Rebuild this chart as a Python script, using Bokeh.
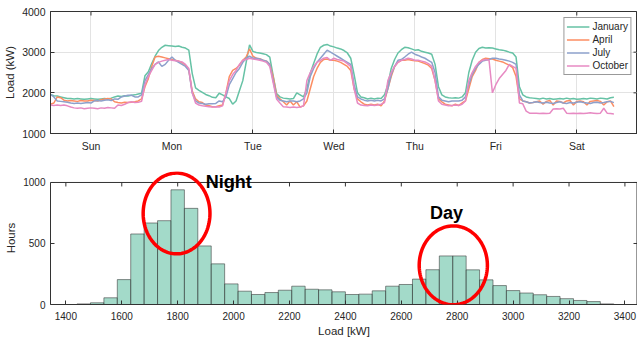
import numpy as np
from bokeh.plotting import figure
from bokeh.layouts import column
from bokeh.models import (FixedTicker, Label, PolyAnnotation, Range1d)
from bokeh.embed import file_html
from bokeh.resources import INLINE

# ---------------- data: weekly load profiles (hourly, Sun 00:00 .. Sat 23:00) ----------------
hours = list(range(168))
day_ticks = [12, 36, 60, 84, 108, 132, 156]
day_labels = ["Sun", "Mon", "Tue", "Wed", "Thu", "Fri", "Sat"]

january = [
    1960, 1930, 1920, 1900, 1880, 1860, 1860, 1850, 1860, 1850, 1840, 1850, 1860, 1850, 1840, 1850, 1860, 1850, 1870, 1900, 1920, 1910, 1930, 1920,
    1940, 1950, 1970, 1990, 2420, 2520, 2720, 2900, 3040, 3120, 3170, 3160, 3150, 3140, 3150, 3120, 3100, 3050, 2480, 2120, 2060, 2010, 1960, 1930,
    1890, 1880, 1990, 1950, 1900, 1860, 1720, 1800, 2050, 2300, 2750, 3180, 3020, 2990, 2980, 2960, 2940, 2880, 2420, 1980, 1900, 1870, 1860, 1850,
    1860, 2000, 1950, 1900, 2100, 2480, 2720, 2950, 3120, 3170, 3190, 3150, 3130, 3100, 3080, 3040, 2980, 2850, 2450, 2000, 1900, 1880, 1850, 1870,
    1850, 1870, 1860, 1950, 2200, 2600, 2820, 2980, 3060, 3120, 3110, 3080, 3050, 3060, 3020, 3000, 2980, 2950, 2700, 2150, 1950, 1900, 1880, 1870,
    1880, 1870, 1900, 2000, 2500, 2800, 3000, 3090, 3120, 3100, 3110, 3100, 3080, 3060, 3050, 3030, 3000, 2980, 2880, 2150, 1950, 1900, 1880, 1870,
    1860, 1850, 1870, 1850, 1860, 1840, 1850, 1860, 1850, 1870, 1850, 1860, 1840, 1850, 1860, 1850, 1870, 1860, 1850, 1870, 1860, 1850, 1880, 1890,
]
april = [
    1720, 1750, 1900, 1880, 1820, 1800, 1810, 1800, 1790, 1810, 1800, 1800, 1820, 1810, 1800, 1830, 1850, 1860, 1850, 1780, 1760, 1750, 1770, 1760,
    1770, 1780, 1800, 1850, 2150, 2350, 2650, 2880, 2900, 2880, 2860, 2840, 2820, 2800, 2780, 2740, 2680, 2560, 2050, 1850, 1780, 1760, 1700, 1680,
    1660, 1660, 1680, 1700, 2000, 2400, 2550, 2600, 2680, 2800, 2880, 3080, 2900, 2850, 2840, 2800, 2780, 2700, 2400, 1950, 1850, 1780, 1700, 1800,
    1700, 1780, 1650, 1680, 1800, 2100, 2400, 2600, 2750, 2820, 2830, 2800, 2800, 2780, 2750, 2700, 2650, 2550, 2100, 1850, 1780, 1720, 1700, 1720,
    1700, 1720, 1680, 1800, 2100, 2400, 2650, 2750, 2800, 2800, 2820, 2800, 2790, 2780, 2750, 2720, 2680, 2600, 2300, 1850, 1780, 1720, 1700, 1680,
    1720, 1690, 1750, 1800, 2100, 2400, 2550, 2750, 2820, 2850, 2840, 2830, 2800, 2780, 2760, 2720, 2680, 2620, 2400, 1850, 1800, 1780, 1750, 1760,
    1780, 1800, 1720, 1790, 1810, 1700, 1800, 1790, 1750, 1800, 1810, 1700, 1790, 1800, 1780, 1700, 1790, 1800, 1810, 1790, 1700, 1780, 1800, 1660,
]
july = [
    1960, 1900, 1800, 1790, 1780, 1770, 1750, 1740, 1750, 1740, 1750, 1760, 1750, 1800, 1810, 1800, 1820, 1830, 1810, 1850, 1840, 1900, 1920, 1940,
    1940, 1900, 1900, 1950, 2300, 2450, 2600, 2700, 2760, 2650, 2700, 2800, 2880, 2800, 2750, 2700, 2650, 2550, 2000, 1800, 1750, 1740, 1720, 1730,
    1730, 1740, 1800, 1780, 1900, 2200, 2350, 2500, 2600, 2750, 2850, 2900, 2850, 2850, 2830, 2800, 2780, 2700, 2300, 1900, 1820, 1800, 1780, 1800,
    1800, 1780, 1800, 1850, 2000, 2400, 2600, 2750, 2850, 2950, 3050, 3000, 2950, 2900, 2850, 2800, 2750, 2700, 2200, 1900, 1850, 1820, 1800, 1820,
    1800, 1820, 1800, 1850, 2100, 2450, 2650, 2800, 2820, 2880, 2950, 3000, 2950, 2920, 2880, 2850, 2800, 2750, 2500, 1900, 1820, 1800, 1780, 1800,
    1800, 1800, 1820, 1900, 2200, 2450, 2600, 2700, 2780, 2800, 2820, 2850, 2850, 2830, 2820, 2800, 2780, 2750, 2700, 1950, 1800, 1780, 1750, 1760,
    1780, 1760, 1750, 1770, 1750, 1740, 1760, 1780, 1750, 1740, 1760, 1750, 1770, 1780, 1760, 1750, 1740, 1760, 1770, 1750, 1760, 1780, 1790, 1760,
]
october = [
    1700, 1690, 1700, 1690, 1700, 1680, 1650, 1630, 1620, 1630, 1610, 1620, 1630, 1620, 1610, 1630, 1620, 1640, 1630, 1620, 1700, 1690, 1720, 1760,
    1780, 1760, 1770, 1790, 2200, 2400, 2550, 2700, 2750, 2780, 2800, 2820, 2800, 2790, 2780, 2760, 2700, 2600, 2000, 1750, 1700, 1680, 1670, 1660,
    1650, 1660, 1650, 1680, 2000, 2300, 2450, 2550, 2700, 2800, 2820, 2850, 2830, 2820, 2800, 2780, 2750, 2650, 2250, 1850, 1750, 1660, 1650, 1640,
    1650, 1640, 1650, 1680, 2300, 2500, 2650, 2750, 2800, 2850, 2870, 2800, 2850, 2820, 2800, 2780, 2720, 2650, 2100, 1750, 1700, 1690, 1680, 1700,
    1690, 1700, 1720, 1760, 2300, 2500, 2650, 2750, 2800, 2820, 2850, 2830, 2800, 2800, 2780, 2760, 2720, 2650, 2300, 1800, 1720, 1700, 1680, 1690,
    1700, 1690, 1720, 1800, 2300, 2500, 2650, 2750, 2800, 2820, 2800, 2000, 2200, 2350, 2450, 2550, 2700, 2650, 2600, 1750, 1730, 1550, 1500, 1500,
    1500, 1490, 1500, 1490, 1500, 1600, 1610, 1600, 1620, 1500, 1490, 1500, 1490, 1500, 1490, 1500, 1510, 1500, 1490, 1500, 1620, 1500, 1490, 1480,
]
series_names = ["January", "April", "July", "October"]
series_colors = ["#66c2a5", "#fc8d62", "#8da0cb", "#e78ac3"]

# ---------------- data: histogram of load (bin edges in kW, counts in hours) ----------------
bin_start = 1440
bin_width = 48
hist_counts = [5, 14, 55, 204, 578, 668, 687, 940, 788, 480,
               333, 169, 109, 82, 98, 117, 150, 125, 120, 104,
               82, 85, 112, 150, 164, 208, 285, 398, 398, 284,
               202, 155, 114, 94, 80, 66, 48, 33, 24, 5]
hist_xticks = [1400, 1600, 1800, 2000, 2200, 2400, 2600, 2800, 3000, 3200, 3400]
hist_yticks = [0, 500, 1000]
load_yticks = [1000, 2000, 3000, 4000]

# annotations: ellipse centre/size in data units, and their labels
night_ellipse = (1796, 746, 239, 662)
day_ellipse = (2786, 321, 244, 646)
night_label = (1900, 1008, "Night")
day_label = (2703, 752, "Day")

FONT = "Liberation Sans"
AX = "#333333"
TXT = "#262626"
FRAME_W = 587
TICK_PX = 4


def style_axis(ax, ticks, label_size="10.5px"):
    ax.ticker = FixedTicker(ticks=ticks)
    ax.major_tick_in = TICK_PX
    ax.major_tick_out = 0
    ax.minor_tick_line_color = None
    ax.major_tick_line_color = AX
    ax.axis_line_color = AX
    ax.major_label_text_font = FONT
    ax.major_label_text_color = TXT
    ax.major_label_text_font_size = label_size
    ax.axis_label_text_font = FONT
    ax.axis_label_text_color = TXT
    ax.axis_label_text_font_style = "normal"
    ax.axis_label_text_font_size = "11.5px"


def inner_ticks(p, xr, yr, xticks, yticks, y_top, fh):
    """tick marks on the top and right frame edges (mirroring the axes)"""
    dy = (yr[1] - yr[0]) / fh * TICK_PX
    dx = (xr[1] - xr[0]) / FRAME_W * TICK_PX
    p.segment(x0=xticks, y0=[y_top] * len(xticks), x1=xticks, y1=[y_top - dy] * len(xticks),
              line_color=AX, line_width=1)
    p.segment(x0=[xr[1]] * len(yticks), y0=yticks, x1=[xr[1] - dx] * len(yticks), y1=yticks,
              line_color=AX, line_width=1)


# ---------------- top: load profiles ----------------
xr1 = (0, 174)
yr1 = (1000, 4000)
FH1 = 122
p1 = figure(frame_width=FRAME_W, frame_height=FH1,
            x_range=Range1d(*xr1), y_range=Range1d(*yr1),
            output_backend="svg", toolbar_location=None,
            min_border_left=50, min_border_right=0, min_border_top=11, min_border_bottom=38)
p1.outline_line_color = AX
for name, vals, col in zip(series_names, [january, april, july, october], series_colors):
    p1.line(hours, vals, line_color=col, line_width=1.5, legend_label=name)

style_axis(p1.xaxis[0], day_ticks)
p1.xaxis[0].major_label_overrides = {t: l for t, l in zip(day_ticks, day_labels)}
p1.xaxis[0].major_label_standoff = 6
style_axis(p1.yaxis[0], load_yticks)
p1.yaxis[0].axis_label = "Load (kW)"
p1.yaxis[0].major_label_standoff = 5
p1.yaxis[0].axis_label_standoff = 3
p1.xgrid.ticker = FixedTicker(ticks=day_ticks)
p1.ygrid.ticker = FixedTicker(ticks=load_yticks)
p1.grid.grid_line_color = "#e3e3e3"
inner_ticks(p1, xr1, yr1, day_ticks, load_yticks, yr1[1], FH1)

lg = p1.legend[0]
lg.location = "top_right"
lg.label_text_font = FONT
lg.label_text_font_size = "10px"
lg.label_text_color = TXT
lg.label_height = 13
lg.glyph_height = 13
lg.glyph_width = 23
lg.label_standoff = 3
lg.spacing = 0
lg.padding = 2
lg.margin = 6
lg.border_line_color = AX
lg.border_line_width = 1
lg.background_fill_alpha = 1

# ---------------- bottom: histogram ----------------
# the y range has head-room above 1000 so the annotations are not cut; the visible box stops at 1000
xr2 = (1345, 3445)
yr2 = (0, 1090)
FH2 = 133
y_box = hist_yticks[-1]
edges = [bin_start + i * bin_width for i in range(len(hist_counts) + 1)]
p2 = figure(frame_width=FRAME_W, frame_height=FH2,
            x_range=Range1d(*xr2), y_range=Range1d(*yr2),
            output_backend="svg", toolbar_location=None,
            min_border_left=50, min_border_right=0, min_border_top=0, min_border_bottom=4)
p2.outline_line_color = None
p2.grid.grid_line_color = None
p2.quad(left=edges[:-1], right=edges[1:], bottom=0, top=hist_counts,
        fill_color="#66c2a5", fill_alpha=0.6, line_color="#333333", line_alpha=0.55, line_width=1)

style_axis(p2.xaxis[0], hist_xticks, label_size="10px")
p2.xaxis[0].axis_label = "Load [kW]"
p2.xaxis[0].major_label_standoff = 7
p2.xaxis[0].axis_label_standoff = 2
style_axis(p2.yaxis[0], hist_yticks, label_size="10px")
p2.yaxis[0].axis_label = "Hours"
p2.yaxis[0].bounds = (hist_yticks[0], y_box)
p2.yaxis[0].major_label_standoff = 5
p2.yaxis[0].axis_label_standoff = 3
# top and right edges of the box
p2.segment(x0=[xr2[0], xr2[1]], y0=[y_box, 0], x1=[xr2[1], xr2[1]], y1=[y_box, y_box],
           line_color=AX, line_width=[1, 2])
inner_ticks(p2, xr2, (0, 1000), hist_xticks, hist_yticks, y_box, 122)

t = np.linspace(0, 2 * np.pi, 120)
for cx, cy, w, h in (night_ellipse, day_ellipse):
    p2.add_layout(PolyAnnotation(xs=list(cx + w / 2 * np.cos(t)), ys=list(cy + h / 2 * np.sin(t)),
                                 xs_units="data", ys_units="data",
                                 fill_alpha=0, line_color="#ff0000", line_alpha=1, line_width=3.5))
for lx, ly, txt in (night_label, day_label):
    p2.add_layout(Label(x=lx, y=ly, text=txt, text_font=FONT, text_font_size="18px",
                        text_font_style="bold", text_baseline="middle", text_color="#000000"))

layout = column(p1, p2, spacing=0)
open("out.html", "w").write(file_html(layout, INLINE))
